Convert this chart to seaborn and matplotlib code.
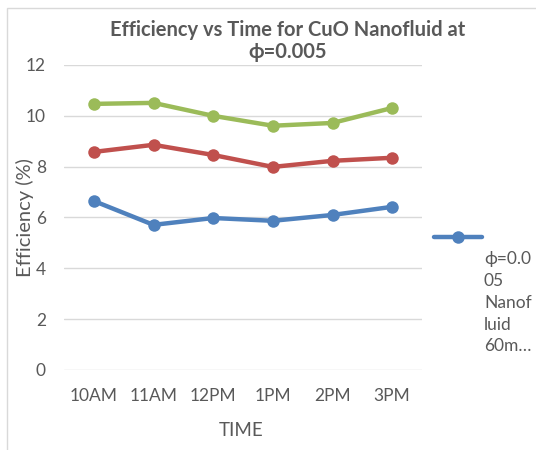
import matplotlib
matplotlib.use("Agg")
import matplotlib.pyplot as plt
import seaborn as sns
import pandas as pd
from matplotlib.lines import Line2D
from matplotlib.patches import Rectangle

times = ["10AM", "11AM", "12PM", "1PM", "2PM", "3PM"]
series_names = ["ϕ=0.005 Nanofluid 60m", "Series 2", "Series 3"]
blue_vals = [6.65, 5.71, 5.98, 5.87, 6.10, 6.42]
red_vals = [8.58, 8.86, 8.46, 7.99, 8.23, 8.35]
green_vals = [10.47, 10.51, 10.00, 9.61, 9.72, 10.31]
colors = ["#4F81BD", "#C0504D", "#9BBB59"]
yticks = [0, 2, 4, 6, 8, 10, 12]
legend_text = "ϕ=0.0\n05\nNanof\nluid\n60m…"

sns.set_theme(style="white")
plt.rcParams["font.family"] = ["Lato", "DejaVu Sans"]

rows = []
for name, vals in zip(series_names, [blue_vals, red_vals, green_vals]):
    for t, v in zip(times, vals):
        rows.append({"time": t, "eff": v, "series": name})
df = pd.DataFrame(rows)

W, H = 536, 450
fig = plt.figure(figsize=(W / 100, H / 100), dpi=100)
fig.patch.set_facecolor("white")
fig.add_artist(Rectangle((7 / W, -0.1), 1.2, 1 - 8 / H + 0.1, transform=fig.transFigure,
                         fill=False, edgecolor="#D9D9D9", linewidth=1))

ax = fig.add_axes([64 / W, 80 / H, (422 - 64) / W, (370 - 65) / H])
sns.lineplot(data=df, x="time", y="eff", hue="series", palette=colors, marker="o",
             markersize=9, markeredgewidth=0, linewidth=3.2, legend=False, ax=ax,
             sort=False)
ax.set_xlim(-0.5, 5.5)
ax.set_ylim(0, 12)
ax.set_yticks(yticks)
ax.set_xticks(range(len(times)))
ax.set_xticklabels(times)
ax.yaxis.grid(True, color="#D9D9D9", linewidth=1)
ax.set_axisbelow(True)
for s in ax.spines.values():
    s.set_visible(False)
ax.tick_params(axis="y", length=0, pad=13, labelsize=12.5, labelcolor="#595959")
ax.tick_params(axis="x", length=0, pad=13, labelsize=12.5, labelcolor="#595959")
ax.set_xlabel("")
ax.set_ylabel("")

fig.text(25 / W, 1 - 218 / H, "Efficiency (%)", rotation=90, ha="center", va="center",
         fontsize=14.5, color="#595959")
fig.text(241 / W, 1 - 430 / H, "TIME", ha="center", va="center", fontsize=13.5, color="#595959")
fig.text(288 / W, 1 - 41 / H, "Efficiency vs Time for CuO Nanofluid at\nϕ=0.005",
         ha="center", va="center", fontsize=14.5, fontweight="bold", color="#595959",
         linespacing=1.1)

fig.add_artist(Line2D([434 / W, 482 / W], [1 - 237 / H] * 2, transform=fig.transFigure,
                      color=colors[0], linewidth=3.2))
fig.add_artist(Line2D([458 / W], [1 - 237 / H], transform=fig.transFigure,
                      color=colors[0], marker="o", markersize=9, markeredgewidth=0))
fig.text(484 / W, 1 - 251 / H, legend_text, ha="left", va="top", fontsize=12.5,
         color="#595959", linespacing=1.45)

fig.savefig("out.png", dpi=100)
